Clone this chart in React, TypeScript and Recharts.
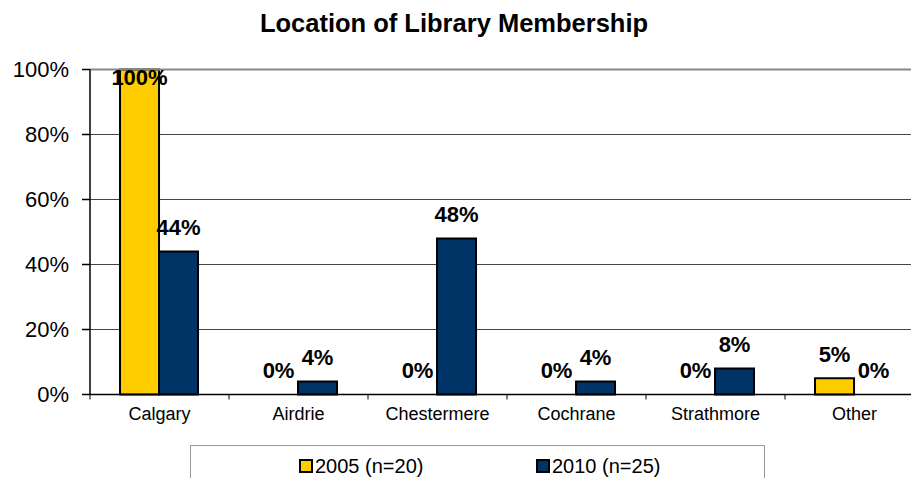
import React from 'react';
import { BarChart, Bar, XAxis, YAxis, CartesianGrid, LabelList, ReferenceLine, Cell } from 'recharts';

const categories = ['Calgary', 'Airdrie', 'Chestermere', 'Cochrane', 'Strathmore', 'Other'];
const values2005 = [1.0, 0, 0, 0, 0, 0.05];
const values2010 = [0.44, 0.04, 0.48, 0.04, 0.08, 0];
const yTicks = [0, 0.2, 0.4, 0.6, 0.8, 1.0];
const series = [
  { key: 'y2005', name: '2005 (n=20)', color: '#FFCC00', values: values2005 },
  { key: 'y2010', name: '2010 (n=25)', color: '#003366', values: values2010 },
];
const title = 'Location of Library Membership';

const data = categories.map((c, i) => ({ category: c, y2005: values2005[i], y2010: values2010[i] }));

const FONT = '"Liberation Sans", Arial, sans-serif';
const PLOT_TOP = 69.5;
const PLOT_BOTTOM = 394.5;

const pct = (v: number) => `${Math.round(v * 100)}%`;

const XTick = (props: any) => {
  const { x, y, payload } = props;
  const off = payload && payload.offset ? payload.offset : 69.5;
  return (
    <g>
      <line x1={x - off} x2={x - off} y1={y} y2={y + 5} stroke="#000" strokeWidth={1} />
      <text x={x} y={y + 13} dy="0.71em" textAnchor="middle" fontSize={18} fontFamily={FONT} fill="#000">
        {payload.value}
      </text>
    </g>
  );
};

const ValueLabel = (props: any) => {
  const { x, y, width, height, value } = props;
  const top = value === 0 ? PLOT_BOTTOM : Math.min(y, y + height);
  const cy = Math.max(top - 24, PLOT_TOP + 8);
  return (
    <text
      x={x + width / 2}
      y={cy}
      dy="0.355em"
      textAnchor="middle"
      fontSize={22}
      fontWeight="bold"
      fontFamily={FONT}
      fill="#000"
    >
      {pct(value)}
    </text>
  );
};

export default function App() {
  return (
    <div style={{ position: 'absolute', left: 0, top: 0, width: 911, height: 478, overflow: 'hidden', background: '#fff', fontFamily: FONT }}>
      <div style={{ position: 'absolute', left: 0, top: 10, width: 908, textAlign: 'center', fontSize: 25.5, lineHeight: '26px', fontWeight: 'bold', color: '#000' }}>
        {title}
      </div>
      <BarChart
        width={930}
        height={478}
        data={data}
        margin={{ top: PLOT_TOP, right: 6, bottom: 0, left: 0 }}
        barCategoryGap="21.6%"
        barGap={0}
      >
        <CartesianGrid vertical={false} stroke="#444" strokeWidth={1} />
        <ReferenceLine y={1} stroke="#888" strokeWidth={2} ifOverflow="extendDomain" />
        <XAxis
          dataKey="category"
          height={478 - PLOT_BOTTOM}
          tickLine={false}
          tickSize={0}
          tickMargin={0}
          stroke="#000"
          strokeWidth={1.5}
          tick={<XTick />}
          interval={0}
        />
        <YAxis
          width={90}
          domain={[0, 1]}
          ticks={yTicks}
          tickFormatter={pct}
          tickSize={8}
          tickMargin={13}
          stroke="#000"
          strokeWidth={1.5}
          tick={{ fontSize: 22, fill: '#000', fontFamily: FONT }}
        />
        {series.map((s) => (
          <Bar
            key={s.key}
            dataKey={s.key}
            name={s.name}
            fill={s.color}
            stroke="#000"
            strokeWidth={2}
            minPointSize={0.01}
            isAnimationActive={false}
          >
            {s.values.map((v, i) => (
              <Cell key={i} stroke={v === 0 ? 'none' : '#000'} fill={v === 0 ? 'none' : s.color} />
            ))}
            <LabelList dataKey={s.key} content={<ValueLabel />} />
          </Bar>
        ))}
      </BarChart>
      <div style={{ position: 'absolute', left: 190, top: 445, width: 575, height: 40, border: '1px solid #999', boxSizing: 'border-box' }}>
        {series.map((s, i) => (
          <div key={s.key} style={{ position: 'absolute', left: 108 + i * 237, top: 8, display: 'flex', alignItems: 'center', height: 24 }}>
            <span style={{ display: 'inline-block', width: 10, height: 10, background: s.color, border: '2px solid #000', marginRight: 2 }} />
            <span style={{ fontSize: 20, lineHeight: '24px', color: '#000' }}>{s.name}</span>
          </div>
        ))}
      </div>
    </div>
  );
}
